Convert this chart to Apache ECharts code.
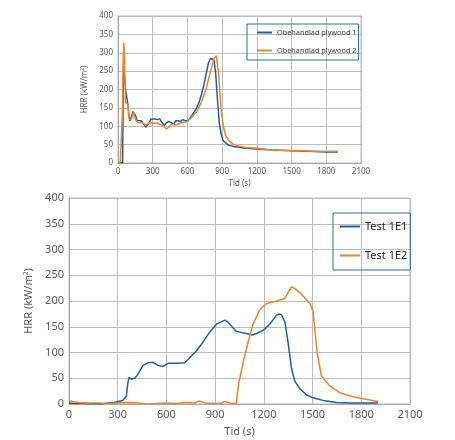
<!DOCTYPE html>
<html>
<head>
<meta charset="utf-8">
<script src="https://cdn.jsdelivr.net/npm/echarts@6/dist/echarts.min.js"></script>
<style>
html, body { margin: 0; padding: 0; background: #fff; }
#chart { width: 455px; height: 440px; }
</style>
</head>
<body>
<div id="chart"></div>
<script>
// ovre diagrammet: obehandlad plywood
var xTicks = [0, 300, 600, 900, 1200, 1500, 1800, 2100];
var yTicks = [0, 50, 100, 150, 200, 250, 300, 350, 400];

var ply1T = [0, 20, 30, 40, 45, 50, 55, 65, 75, 85, 95, 105, 115, 130, 140, 150, 165, 180, 200, 215, 225, 240, 255, 270, 285, 300, 320, 340, 360, 380, 400, 420, 440, 460, 480, 500, 520, 540, 560, 580, 600, 620, 640, 660, 680, 700, 720, 740, 760, 780, 800, 815, 830, 845, 860, 875, 890, 910, 930, 960, 1000, 1100, 1200, 1300, 1400, 1500, 1600, 1700, 1800, 1900];
var ply1V = [0, 2, -3, 0, 200, 282, 240, 200, 195, 160, 125, 115, 120, 140, 145, 130, 115, 110, 115, 115, 105, 97, 100, 110, 120, 118, 120, 118, 120, 110, 102, 110, 113, 110, 105, 115, 115, 113, 118, 115, 115, 120, 130, 140, 150, 165, 185, 210, 240, 270, 285, 288, 280, 240, 170, 110, 80, 60, 55, 48, 45, 40, 38, 36, 35, 33, 32, 31, 30, 30];

var ply2T = [0, 20, 35, 40, 45, 50, 55, 60, 65, 75, 85, 95, 105, 115, 125, 135, 145, 160, 180, 200, 220, 240, 260, 280, 300, 340, 380, 400, 420, 440, 460, 480, 500, 520, 560, 600, 640, 680, 720, 760, 800, 830, 850, 870, 890, 910, 930, 960, 1000, 1100, 1200, 1300, 1400, 1500, 1600, 1700, 1800, 1900];
var ply2V = [0, 3, 5, 150, 280, 327, 300, 230, 165, 163, 160, 120, 115, 118, 130, 138, 125, 112, 110, 110, 108, 103, 108, 110, 108, 108, 103, 98, 93, 98, 105, 105, 103, 106, 110, 113, 125, 140, 165, 200, 250, 285, 292, 240, 150, 100, 75, 60, 50, 42, 40, 37, 35, 34, 33, 32, 32, 32];

// nedre diagrammet: test 1E1 / 1E2
var e1T = [0, 40, 80, 120, 160, 200, 240, 280, 302, 330, 353, 362, 370, 384, 405, 425, 456, 487, 517, 548, 579, 610, 661, 712, 743, 784, 825, 867, 908, 940, 959, 975, 990, 1031, 1092, 1130, 1154, 1195, 1236, 1277, 1295, 1308, 1329, 1349, 1370, 1390, 1421, 1462, 1503, 1565, 1647, 1730, 1811, 1903];
var e1V = [2, 1, 2, 0, 1, 0, 2, 3, 5, 7, 15, 40, 52, 48, 50, 58, 75, 80, 81, 75, 73, 79, 79, 80, 90, 103, 120, 140, 155, 160, 163, 160, 155, 141, 137, 134, 137, 143, 155, 172, 175, 173, 160, 120, 70, 45, 30, 18, 12, 7, 3, 2, 2, 2];

var e2T = [0, 20, 60, 120, 180, 240, 300, 360, 420, 480, 540, 600, 660, 720, 780, 800, 840, 900, 940, 960, 1000, 1030, 1041, 1045, 1072, 1103, 1133, 1175, 1216, 1277, 1329, 1370, 1400, 1441, 1483, 1503, 1528, 1554, 1606, 1667, 1749, 1811, 1903];
var e2V = [7, 5, 3, 2, 2, 1, 2, 3, 2, 0, 1, 2, 1, 3, 2, 6, 2, 1, 2, 5, 1, 1, 0, 40, 80, 120, 155, 183, 195, 200, 205, 228, 222, 210, 195, 180, 100, 55, 35, 22, 14, 10, 5];

function pairs(t, v) {
	var out = [];
	for (var i = 0; i < t.length; i++) {
		out.push([t[i], v[i]]);
	}
	return out;
}

var blue = '#1f5f9e';
var orange = '#f0832f';
var txt = '#595959';
var gridCol = '#bdbdbd';
var font = 'Noto Sans';

function plain(v) {
	return String(v);
}

function xAxisCfg(idx, fs, gap) {
	return {
		gridIndex: idx, type: 'value', min: xTicks[0], max: xTicks[xTicks.length - 1], interval: 300,
		name: 'Tid (s)', nameLocation: 'middle', nameGap: gap,
		nameTextStyle: { color: txt, fontSize: fs, fontFamily: font },
		axisLine: { show: true, lineStyle: { color: '#a6a6a6' } },
		axisTick: { show: false },
		axisLabel: { color: txt, fontSize: fs, fontFamily: font, margin: 5, formatter: plain },
		splitLine: { show: true, lineStyle: { color: gridCol, width: 1 } }
	};
}

function yAxisCfg(idx, fs, gap) {
	return {
		gridIndex: idx, type: 'value', min: yTicks[0], max: yTicks[yTicks.length - 1], interval: 50,
		name: 'HRR (kW/m²)', nameLocation: 'middle', nameGap: gap, nameRotate: 90,
		nameTextStyle: { color: txt, fontSize: fs, fontFamily: font },
		axisLine: { show: true, lineStyle: { color: '#a6a6a6' } },
		axisTick: { show: false },
		axisLabel: { color: txt, fontSize: fs, fontFamily: font, margin: 5, formatter: plain },
		splitLine: { show: true, lineStyle: { color: gridCol, width: 1 } }
	};
}

function lineSeries(name, data, color, idx) {
	return {
		name: name, type: 'line', data: data, xAxisIndex: idx, yAxisIndex: idx,
		showSymbol: false, symbol: 'none', smooth: false,
		lineStyle: { color: color, width: 1.5 }, itemStyle: { color: color },
		animation: false
	};
}

var myChart = echarts.init(document.getElementById('chart'));
var option = {
	backgroundColor: '#fff',
	animation: false,
	grid: [
		{ left: 118, top: 16, width: 243, height: 147, show: true, borderColor: gridCol, borderWidth: 1 },
		{ left: 69, top: 198, width: 341, height: 206, show: true, borderColor: gridCol, borderWidth: 1 }
	],
	legend: [
		{
			data: ['Obehandlad plywood 1', 'Obehandlad plywood 2'],
			left: 247, top: 24, orient: 'vertical',
			itemWidth: 15, itemHeight: 2, icon: 'rect', itemGap: 11,
			padding: [5, 2, 6, 10],
			borderColor: '#2e6da4', borderWidth: 1,
			textStyle: { color: '#404040', fontSize: 7.3, fontFamily: font }
		},
		{
			data: ['Test 1E1', 'Test 1E2'],
			left: 333, top: 213, orient: 'vertical', itemGap: 18,
			itemWidth: 20, itemHeight: 2, icon: 'rect',
			padding: [8, 3, 9, 7],
			borderColor: '#2e6da4', borderWidth: 1,
			textStyle: { color: '#262626', fontSize: 11, fontFamily: font }
		}
	],
	xAxis: [xAxisCfg(0, 8, 17), xAxisCfg(1, 11, 22)],
	yAxis: [yAxisCfg(0, 8, 18), yAxisCfg(1, 11, 33)],
	series: [
		lineSeries('Obehandlad plywood 1', pairs(ply1T, ply1V), blue, 0),
		lineSeries('Obehandlad plywood 2', pairs(ply2T, ply2V), orange, 0),
		lineSeries('Test 1E1', pairs(e1T, e1V), blue, 1),
		lineSeries('Test 1E2', pairs(e2T, e2V), orange, 1)
	]
};
myChart.setOption(option);
</script>
</body>
</html>
